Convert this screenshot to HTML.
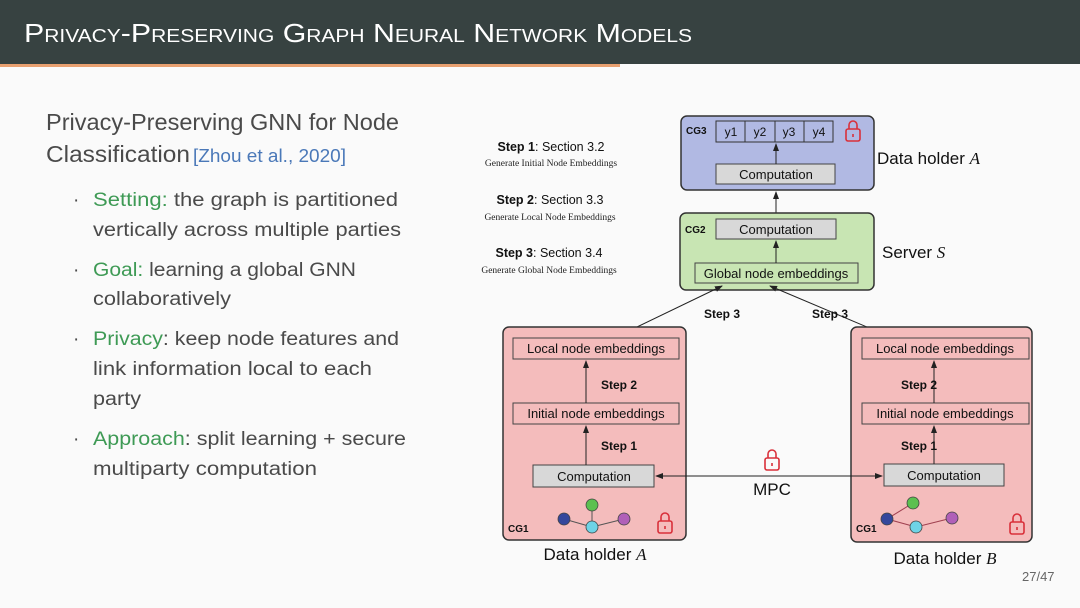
<!DOCTYPE html>
<html><head><meta charset="utf-8"><style>
html,body{margin:0;padding:0;background:#fafafa;}
svg{display:block;}
.t{font-family:"Liberation Sans",sans-serif;fill:#4a4a4a;font-size:19px;}
.g{fill:#3e9a55;}
.d{font-family:"Liberation Sans",sans-serif;fill:#111;}
.s{font-family:"Liberation Serif",serif;fill:#222;font-size:9.5px;}
.b{font-family:"Liberation Sans",sans-serif;font-weight:bold;fill:#111;font-size:12px;}
</style></head><body>
<svg width="1080" height="608" viewBox="0 0 1080 608" xmlns="http://www.w3.org/2000/svg">
<defs>
<marker id="ar" markerWidth="8" markerHeight="8" refX="7" refY="4" orient="auto" markerUnits="userSpaceOnUse"><path d="M0,1 L8,4 L0,7 Z" fill="#222"/></marker>
<marker id="al" markerWidth="8" markerHeight="8" refX="1" refY="4" orient="auto" markerUnits="userSpaceOnUse"><path d="M8,1 L0,4 L8,7 Z" fill="#222"/></marker>
<g id="lock"><path d="M-4,-2 V-6 A4,4 0 0 1 4,-6 V-2" fill="none" stroke="#d9303a" stroke-width="1.6"/><rect x="-7" y="-2" width="14" height="12" rx="2" fill="none" stroke="#d9303a" stroke-width="1.6"/><line x1="0" y1="3" x2="0" y2="6" stroke="#d9303a" stroke-width="1.6"/></g>
</defs>
<rect x="0" y="0" width="1080" height="64" fill="#374241"/>
<rect x="0" y="64" width="620" height="3" fill="#e8a070"/>
<text x="24" y="42" style="font-family:'Liberation Sans',sans-serif;font-variant:small-caps;font-size:26px;fill:#fff" textLength="668" lengthAdjust="spacingAndGlyphs">Privacy-Preserving Graph Neural Network Models</text>

<text class="t" x="46" y="130" style="font-size:23px" textLength="353" lengthAdjust="spacingAndGlyphs">Privacy-Preserving GNN for Node</text>
<text class="t" x="46" y="162" style="font-size:23px" textLength="144" lengthAdjust="spacingAndGlyphs">Classification</text>
<text x="193" y="162" style="font-family:'Liberation Sans',sans-serif;font-size:18px;fill:#4a78b8" textLength="153" lengthAdjust="spacingAndGlyphs">[Zhou et al., 2020]</text>

<g class="t">
<text x="73" y="206">·</text><text x="73" y="276">·</text><text x="73" y="345">·</text><text x="73" y="445">·</text>
<text x="93" y="206" textLength="305" lengthAdjust="spacingAndGlyphs"><tspan class="g">Setting:</tspan> the graph is partitioned</text>
<text x="93" y="236" textLength="308" lengthAdjust="spacingAndGlyphs">vertically across multiple parties</text>
<text x="93" y="276" textLength="263" lengthAdjust="spacingAndGlyphs"><tspan class="g">Goal:</tspan> learning a global GNN</text>
<text x="93" y="305" textLength="138" lengthAdjust="spacingAndGlyphs">collaboratively</text>
<text x="93" y="345" textLength="306" lengthAdjust="spacingAndGlyphs"><tspan class="g">Privacy</tspan>: keep node features and</text>
<text x="93" y="375" textLength="279" lengthAdjust="spacingAndGlyphs">link information local to each</text>
<text x="93" y="405" textLength="48" lengthAdjust="spacingAndGlyphs">party</text>
<text x="93" y="445" textLength="313" lengthAdjust="spacingAndGlyphs"><tspan class="g">Approach</tspan>: split learning + secure</text>
<text x="93" y="475" textLength="224" lengthAdjust="spacingAndGlyphs">multiparty computation</text>
</g>

<!-- step labels -->
<g text-anchor="middle">
<text x="551" y="151" class="d" style="font-size:12.5px"><tspan font-weight="bold">Step 1</tspan>: Section 3.2</text>
<text x="551" y="166" class="s">Generate Initial Node Embeddings</text>
<text x="550" y="204" class="d" style="font-size:12.5px"><tspan font-weight="bold">Step 2</tspan>: Section 3.3</text>
<text x="550" y="220" class="s">Generate Local Node Embeddings</text>
<text x="549" y="257" class="d" style="font-size:12.5px"><tspan font-weight="bold">Step 3</tspan>: Section 3.4</text>
<text x="549" y="273" class="s">Generate Global Node Embeddings</text>
</g>

<!-- CG3 -->
<rect x="681" y="116" width="193" height="74" rx="6" fill="#b1b9e3" stroke="#333" stroke-width="1.5"/>
<text x="686" y="134" class="b" style="font-size:10px">CG3</text>
<g fill="none" stroke="#333" stroke-width="1"><rect x="716" y="121" width="117" height="21"/><line x1="745" y1="121" x2="745" y2="142"/><line x1="775" y1="121" x2="775" y2="142"/><line x1="804" y1="121" x2="804" y2="142"/></g>
<g class="d" style="font-size:12px" text-anchor="middle"><text x="731" y="136">y1</text><text x="760" y="136">y2</text><text x="789" y="136">y3</text><text x="819" y="136">y4</text></g>
<use href="#lock" x="853" y="131"/>
<rect x="716" y="164" width="119" height="20" fill="#d8d8d8" stroke="#444"/>
<text x="776" y="179" class="d" text-anchor="middle" style="font-size:13px">Computation</text>
<line x1="776" y1="164" x2="776" y2="144" stroke="#222" marker-end="url(#ar)"/>
<text x="877" y="164" class="d" style="font-size:17px">Data holder <tspan font-family="Liberation Serif" font-style="italic">A</tspan></text>

<line x1="776" y1="213" x2="776" y2="192" stroke="#222" marker-end="url(#ar)"/>

<!-- CG2 -->
<rect x="680" y="213" width="194" height="77" rx="6" fill="#c8e5b3" stroke="#333" stroke-width="1.5"/>
<text x="685" y="233" class="b" style="font-size:10px">CG2</text>
<rect x="716" y="219" width="120" height="20" fill="#d8d8d8" stroke="#444"/>
<text x="776" y="234" class="d" text-anchor="middle" style="font-size:13px">Computation</text>
<rect x="695" y="263" width="163" height="20" fill="none" stroke="#444"/>
<text x="776" y="278" class="d" text-anchor="middle" style="font-size:13px">Global node embeddings</text>
<line x1="776" y1="263" x2="776" y2="241" stroke="#222" marker-end="url(#ar)"/>
<text x="882" y="258" class="d" style="font-size:17px">Server <tspan font-family="Liberation Serif" font-style="italic">S</tspan></text>

<line x1="614" y1="338" x2="722" y2="286" stroke="#222" marker-end="url(#ar)"/>
<line x1="893" y1="338" x2="770" y2="286" stroke="#222" marker-end="url(#ar)"/>
<text x="704" y="318" class="b">Step 3</text>
<text x="812" y="318" class="b">Step 3</text>

<!-- CG1 A -->
<rect x="503" y="327" width="183" height="213" rx="6" fill="#f4bcbc" stroke="#333" stroke-width="1.5"/>
<rect x="513" y="338" width="166" height="21" fill="none" stroke="#444"/>
<text x="596" y="353" class="d" text-anchor="middle" style="font-size:13px">Local node embeddings</text>
<rect x="513" y="403" width="166" height="21" fill="none" stroke="#444"/>
<text x="596" y="418" class="d" text-anchor="middle" style="font-size:13px">Initial node embeddings</text>
<rect x="533" y="465" width="121" height="22" fill="#d8d8d8" stroke="#444"/>
<text x="594" y="481" class="d" text-anchor="middle" style="font-size:13px">Computation</text>
<line x1="586" y1="403" x2="586" y2="361" stroke="#222" marker-end="url(#ar)"/>
<line x1="586" y1="465" x2="586" y2="426" stroke="#222" marker-end="url(#ar)"/>
<text x="601" y="389" class="b">Step 2</text>
<text x="601" y="450" class="b">Step 1</text>
<g stroke="#555"><line x1="564" y1="519" x2="592" y2="527"/><line x1="592" y1="505" x2="592" y2="527"/><line x1="592" y1="527" x2="624" y2="519"/></g>
<circle cx="592" cy="505" r="6" fill="#5cc050" stroke="#444" stroke-width=".8"/>
<circle cx="564" cy="519" r="6" fill="#34479c" stroke="#444" stroke-width=".8"/>
<circle cx="592" cy="527" r="6" fill="#6ed3e6" stroke="#444" stroke-width=".8"/>
<circle cx="624" cy="519" r="6" fill="#b060b8" stroke="#444" stroke-width=".8"/>
<use href="#lock" x="665" y="523"/>
<text x="508" y="532" class="b" style="font-size:10px">CG1</text>
<text x="595" y="560" class="d" text-anchor="middle" style="font-size:17px">Data holder <tspan font-family="Liberation Serif" font-style="italic">A</tspan></text>

<!-- CG1 B -->
<rect x="851" y="327" width="181" height="215" rx="6" fill="#f4bcbc" stroke="#333" stroke-width="1.5"/>
<rect x="862" y="338" width="167" height="21" fill="none" stroke="#444"/>
<text x="945" y="353" class="d" text-anchor="middle" style="font-size:13px">Local node embeddings</text>
<rect x="862" y="403" width="167" height="21" fill="none" stroke="#444"/>
<text x="945" y="418" class="d" text-anchor="middle" style="font-size:13px">Initial node embeddings</text>
<rect x="884" y="464" width="120" height="22" fill="#d8d8d8" stroke="#444"/>
<text x="944" y="480" class="d" text-anchor="middle" style="font-size:13px">Computation</text>
<line x1="934" y1="403" x2="934" y2="361" stroke="#222" marker-end="url(#ar)"/>
<line x1="934" y1="464" x2="934" y2="426" stroke="#222" marker-end="url(#ar)"/>
<text x="901" y="389" class="b">Step 2</text>
<text x="901" y="450" class="b">Step 1</text>
<g stroke="#a04050"><line x1="887" y1="519" x2="913" y2="503"/><line x1="887" y1="519" x2="916" y2="527"/><line x1="916" y1="527" x2="952" y2="518"/></g>
<circle cx="913" cy="503" r="6" fill="#5cc050" stroke="#444" stroke-width=".8"/>
<circle cx="887" cy="519" r="6" fill="#34479c" stroke="#444" stroke-width=".8"/>
<circle cx="916" cy="527" r="6" fill="#6ed3e6" stroke="#444" stroke-width=".8"/>
<circle cx="952" cy="518" r="6" fill="#b060b8" stroke="#444" stroke-width=".8"/>
<use href="#lock" x="1017" y="524"/>
<text x="856" y="532" class="b" style="font-size:10px">CG1</text>
<text x="945" y="564" class="d" text-anchor="middle" style="font-size:17px">Data holder <tspan font-family="Liberation Serif" font-style="italic">B</tspan></text>

<!-- MPC -->
<line x1="656" y1="476" x2="882" y2="476" stroke="#222" marker-start="url(#al)" marker-end="url(#ar)"/>
<use href="#lock" x="772" y="460"/>
<text x="772" y="495" class="d" text-anchor="middle" style="font-size:17px">MPC</text>

<text x="1022" y="581" style="font-family:'Liberation Sans',sans-serif;font-size:13px;fill:#666">27/47</text>
</svg>
</body></html>
